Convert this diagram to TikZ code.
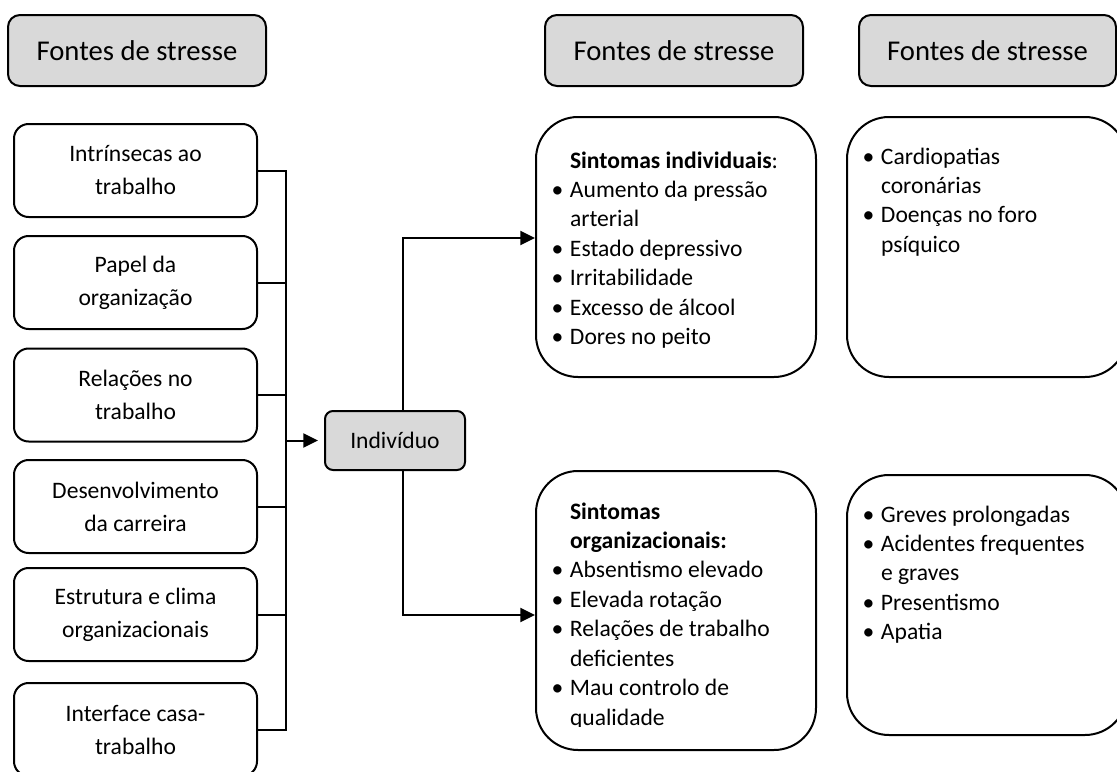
\documentclass[tikz,border=0pt]{standalone}
\usepackage{fontspec}
\setmainfont{Carlito}
\usetikzlibrary{arrows.meta,calc}
\definecolor{hdrgray}{RGB}{217,217,217}
\newcommand\bl{\llap{•\hspace{5pt}}}
\newcommand\lst[1]{\begin{tabular}[t]{@{}l@{}}#1\end{tabular}}
\begin{document}
\begin{tikzpicture}[x=0.75pt,y=-0.75pt,line width=1.5pt,
  hdr/.style={draw, fill=hdrgray, rounded corners=9pt, minimum width=193.5pt, minimum height=53.25pt, inner sep=0pt, font=\fontsize{21.5}{26}\selectfont},
  srcbox/.style={draw, fill=white, rounded corners=11pt, minimum width=182.25pt, minimum height=69.75pt, inner sep=0pt, align=center, font=\fontsize{17.7}{24.75}\selectfont},
  indbox/.style={draw, fill=hdrgray, rounded corners=6pt, minimum width=105pt, minimum height=44.25pt, inner sep=0pt, font=\fontsize{17.7}{22}\selectfont},
  bigbox/.style={draw, rounded corners=31.5pt, minimum width=210pt, inner sep=0pt},
  listtxt/.style={anchor=base west, inner sep=0pt, font=\fontsize{17.7}{22.1}\selectfont},
  arr/.style={-{Triangle[length=11pt,width=10.5pt]}}
]
\clip (0,0) rectangle (1117,771);
% headers
\node[hdr] (h1) at (137,50.5) {Fontes de stresse};
\node[hdr] (h2) at (674,50.5) {Fontes de stresse};
\node[hdr, minimum width=192.75pt] (h3) at (987.5,50.5) {Fontes de stresse};
% source boxes
\node[srcbox] (s1) at (135.5,170.5) {Intrínsecas ao\\trabalho};
\node[srcbox] (s2) at (135.5,282.5) {Papel da\\organização};
\node[srcbox] (s3) at (135.5,395) {Relações no\\trabalho};
\node[srcbox] (s4) at (135.5,506.5) {Desenvolvimento\\da carreira};
\node[srcbox] (s5) at (135.5,614.5) {Estrutura e clima\\organizacionais};
\node[srcbox] (s6) at (135.5,729.5) {Interface casa-\\trabalho};
% individual
\node[indbox] (ind) at (395,440.5) {Indivíduo};
% big boxes
\node[bigbox, minimum height=195pt] (mt) at (676,247) {};
\node[bigbox, minimum height=195pt] (rt) at (987,247) {};
\node[bigbox, minimum height=209.25pt] (mb) at (676,610.5) {};
\node[bigbox, minimum height=195pt] (rb) at (987,605) {};
% texts
\node[listtxt] (mtt) at (569,168) {\lst{\textbf{Sintomas individuais}:\\\bl Aumento da pressão\\arterial\\\bl Estado depressivo\\\bl Irritabilidade\\\bl Excesso de álcool\\\bl Dores no peito}};
\node[listtxt] (rtt) at (880,164) {\lst{\bl Cardiopatias\\coronárias\\\bl Doenças no foro\\psíquico}};
\begin{scope}
\clip (540,480) rectangle (812,726);
\node[listtxt] (mbt) at (569,519) {\lst{\textbf{Sintomas}\\\textbf{organizacionais:}\\\bl Absentismo elevado\\\bl Elevada rotação\\\bl Relações de trabalho\\deficientes\\\bl Mau controlo de\\qualidade}};
\end{scope}
\node[listtxt] (rbt) at (880,522) {\lst{\bl Greves prolongadas\\\bl Acidentes frequentes\\e graves\\\bl Presentismo\\\bl Apatia}};
% connectors
\coordinate (bx) at (286,0);
\coordinate (tx) at (403,0);
\draw (s1.east) -| (s6.east -| bx) -- (s6.east);
\foreach \n in {s2,s3,s4,s5} \draw (\n.east) -- (\n.east -| bx);
\draw[arr, shorten >=4.5pt] (ind.west -| bx) -- (ind.west);
\draw[arr] (ind.north -| tx) |- ($(mt.west)+(0,-9)$);
\draw[arr] (ind.south -| tx) |- ($(mb.west)+(0,4.5)$);
\end{tikzpicture}
\end{document}
